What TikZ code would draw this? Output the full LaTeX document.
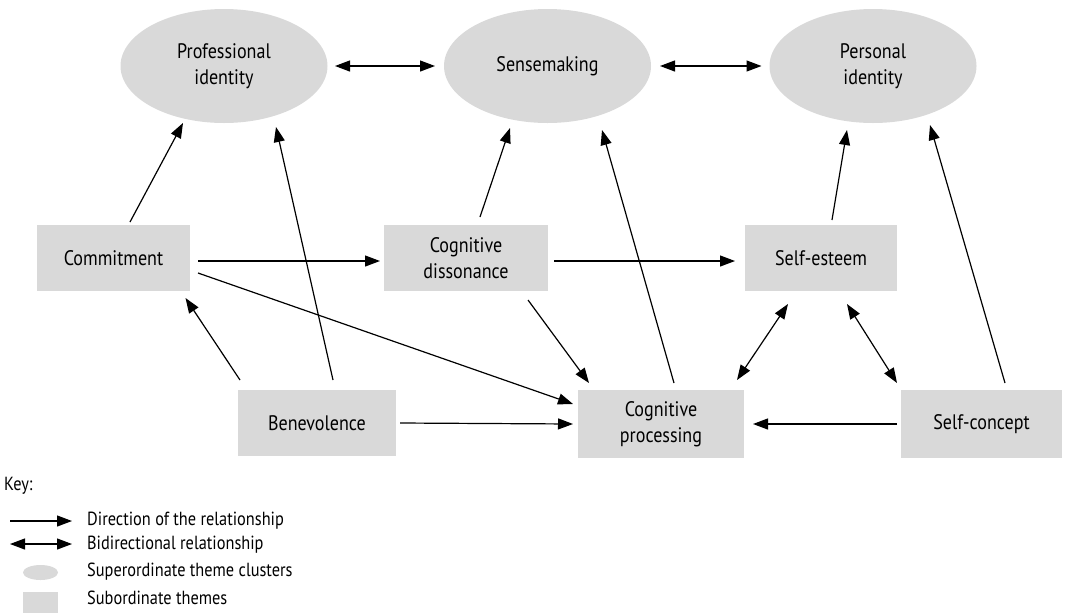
\documentclass[tikz,border=0pt]{standalone}
\usepackage{fontspec}
\setmainfont{PT Sans}[FakeStretch=0.86]
\usetikzlibrary{shapes.geometric,arrows.meta}
\definecolor{boxgray}{RGB}{217,217,217}
\tikzset{
  theme/.style={rectangle, fill=boxgray, inner sep=0pt, outer sep=0pt, align=center,
    font=\fontsize{21}{26}\selectfont},
  cluster/.style={ellipse, fill=boxgray, inner sep=0pt, outer sep=0pt, align=center,
    minimum width=207pt, minimum height=114pt, font=\fontsize{21}{26}\selectfont},
  arr/.style={line width=1.2pt, -{Triangle[length=15pt,width=11pt]}},
  biarr/.style={line width=1.2pt, {Triangle[length=15pt,width=11pt]}-{Triangle[length=15pt,width=11pt]}},
  keytext/.style={anchor=west, inner sep=0pt, font=\fontsize{19}{21}\selectfont},
}
\begin{document}
\begin{tikzpicture}[x=1pt,y=-1pt]
\useasboundingbox (0,0) rectangle (1065,614);
% clusters
\node[cluster] (prof) at (224,66) {Professional\\identity};
\node[cluster] (sens) at (547.5,66) {Sensemaking};
\node[cluster] (pers) at (873,66) {Personal\\identity};
% themes
\node[theme, minimum width=153pt, minimum height=66pt] (comm) at (113.5,258) {Commitment};
\node[theme, minimum width=164pt, minimum height=66pt] (diss) at (466,258) {Cognitive\\dissonance};
\node[theme, minimum width=152pt, minimum height=66pt] (este) at (821,258) {Self-esteem};
\node[theme, minimum width=158pt, minimum height=66pt] (bene) at (317,423) {Benevolence};
\node[theme, minimum width=166pt, minimum height=68pt] (proc) at (661,424) {Cognitive\\processing};
\node[theme, minimum width=161pt, minimum height=68pt] (conc) at (981.5,424) {Self-concept};
% connectors
\draw[biarr] ([xshift=7.5pt]prof.east) -- ([xshift=-9pt]sens.west);
\draw[biarr] ([xshift=9pt]sens.east) -- ([xshift=-8pt]pers.west);
\draw[arr] ([xshift=16.5pt,yshift=3pt]comm.north) -- ([xshift=-41pt]prof.south);
\draw[arr] ([xshift=16pt,yshift=10pt]bene.north) -- ([xshift=52pt,yshift=-4pt]prof.south);
\draw[arr] ([xshift=-77pt,yshift=10pt]bene.north) -- ([xshift=72pt,yshift=-7pt]comm.south);
\draw[arr] ([xshift=8pt,yshift=-3pt]comm.east) -- ([xshift=-4pt,yshift=-3pt]diss.west);
\draw[arr] ([xshift=8pt,yshift=-15pt]comm.east) -- ([xshift=-5pt,yshift=20pt]proc.west);
\draw[arr] ([xshift=14pt,yshift=8pt]diss.north) -- ([xshift=-37.5pt,yshift=-5pt]sens.south);
\draw[arr] ([xshift=6pt,yshift=-3pt]diss.east) -- ([xshift=-10pt,yshift=-3pt]este.west);
\draw[arr] ([xshift=62pt,yshift=-9pt]diss.south) -- ([xshift=-72pt,yshift=7pt]proc.north);
\draw[arr] ([xshift=4pt]bene.east) -- ([xshift=-5pt]proc.west);
\draw[arr] ([xshift=13pt,yshift=7pt]proc.north) -- ([xshift=54.5pt,yshift=-7pt]sens.south);
\draw[biarr] ([xshift=-7pt,yshift=10pt]proc.north east) -- ([xshift=-33pt,yshift=-13pt]este.south);
\draw[biarr] ([xshift=26pt,yshift=-13pt]este.south) -- ([xshift=-4pt,yshift=7pt]conc.north west);
\draw[arr] ([xshift=11pt,yshift=5pt]este.north) -- ([xshift=-26pt,yshift=-7pt]pers.south);
\draw[arr] ([xshift=23.5pt,yshift=7pt]conc.north) -- ([xshift=57pt,yshift=-2pt]pers.south);
\draw[arr] ([xshift=-4pt]conc.west) -- ([xshift=9pt]proc.east);
% key
\node[keytext] (key) at (4,486) {Key:};
\coordinate (k1a) at (10,521); \coordinate (k1b) at (72,521);
\coordinate (k2a) at (10,544); \coordinate (k2b) at (72,544);
\draw[arr] (k1a) -- (k1b);
\draw[biarr] (k2a) -- (k2b);
\node[ellipse, fill=boxgray, inner sep=0pt, minimum width=35pt, minimum height=15pt] (kell) at (40.5,572.5) {};
\node[rectangle, fill=boxgray, inner sep=0pt, minimum width=35pt, minimum height=21pt] (krect) at (40.5,602.5) {};
\node[keytext] (t1) at (87,521) {Direction of the relationship};
\node[keytext] (t2) at (87,545) {Bidirectional relationship};
\node[keytext] (t3) at (87,572) {Superordinate theme clusters};
\node[keytext] (t4) at (87,598) {Subordinate themes};
\end{tikzpicture}
\end{document}
